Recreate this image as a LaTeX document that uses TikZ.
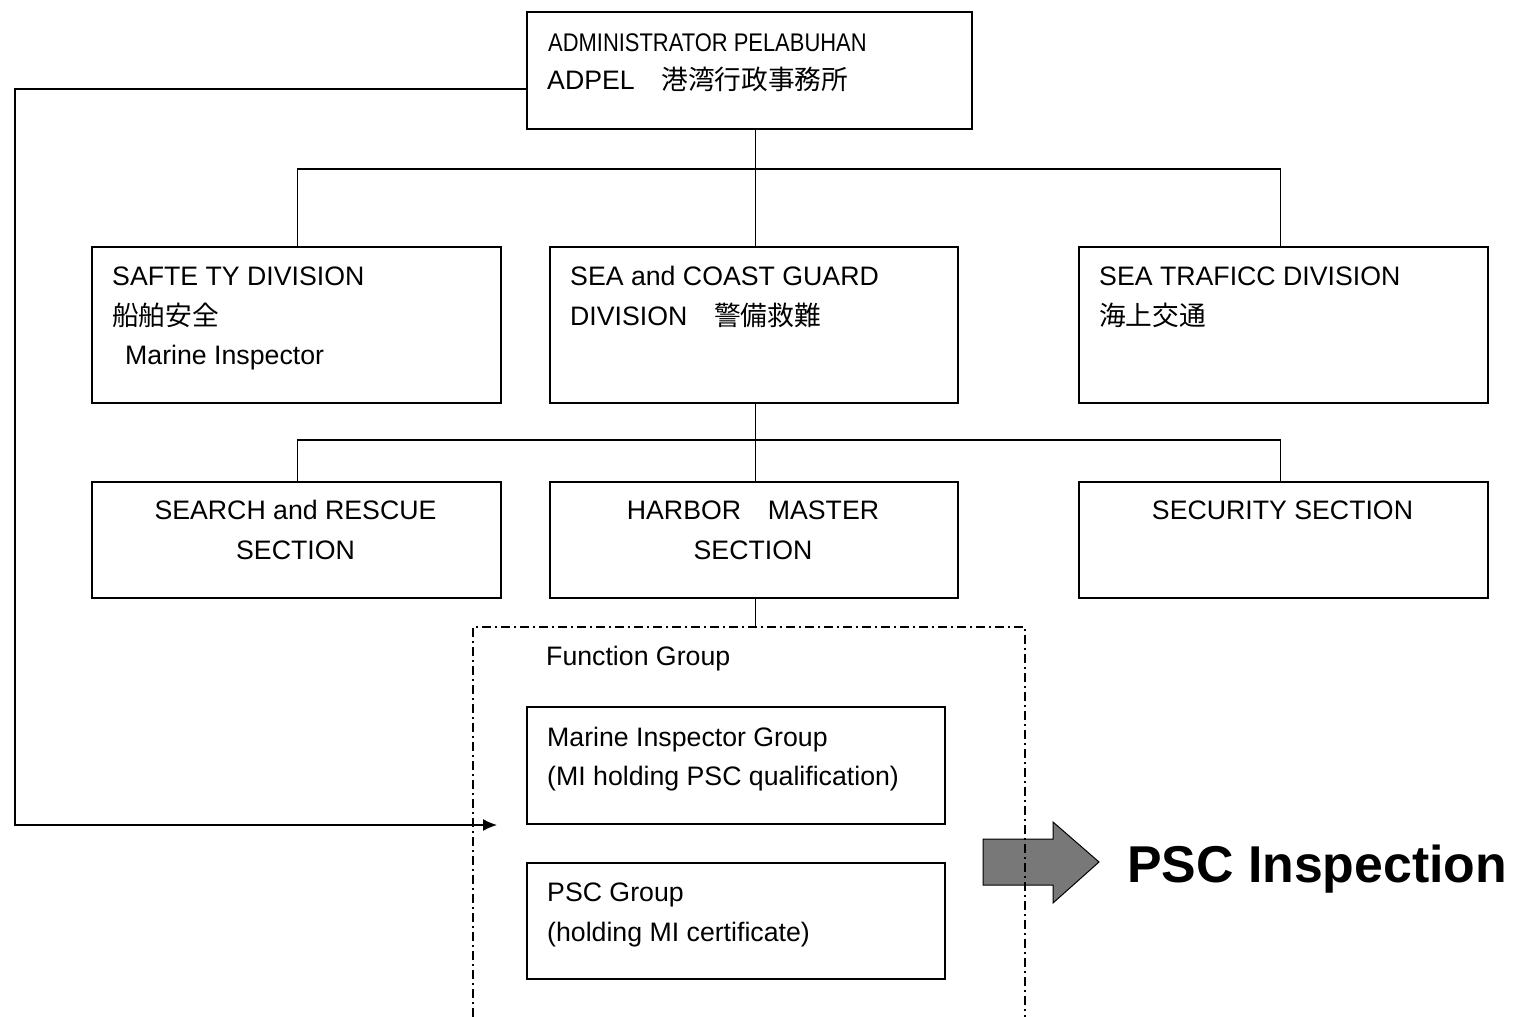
\documentclass[tikz,border=0pt]{standalone}
\usepackage{fontspec}
\setmainfont{Liberation Sans}
\newfontfamily\cjk{Noto Sans CJK JP}
\newfontfamily\narrowfont{Liberation Sans}[FakeStretch=0.86]
\usetikzlibrary{arrows.meta,calc}
\definecolor{arrowgray}{RGB}{120,120,120}
\begin{document}
\begin{tikzpicture}[x=1pt,y=-1pt,
  box/.style={draw, line width=1.5pt, rectangle, inner sep=0pt, anchor=north west},
  conn/.style={line width=1.4pt},
  txt/.style={anchor=base west, inner sep=0pt, font=\fontsize{26.7}{32}\selectfont},
  ctxt/.style={anchor=base, inner sep=0pt, font=\fontsize{26.7}{32}\selectfont},
  dashdot/.style={line width=1.3pt, dash pattern=on 9pt off 4pt on 2pt off 4pt}]
\useasboundingbox (0,0) rectangle (1515,1017);

% boxes
\node[box, minimum width=445, minimum height=117] (adpel) at (526,11) {};
\node[box, minimum width=409, minimum height=156] (saf) at (91,246) {};
\node[box, minimum width=408, minimum height=156] (scg) at (549,246) {};
\node[box, minimum width=409, minimum height=156] (traf) at (1078,246) {};
\node[box, minimum width=409, minimum height=116] (sar) at (91,481) {};
\node[box, minimum width=408, minimum height=116] (hm) at (549,481) {};
\node[box, minimum width=409, minimum height=116] (sec) at (1078,481) {};
\node[box, minimum width=418, minimum height=117] (mig) at (526,706) {};
\node[box, minimum width=418, minimum height=116] (pscg) at (526,862) {};

% texts
\node[txt, font=\narrowfont\fontsize{25.5}{30}\selectfont] (t1) at (548,51.5) {ADMINISTRATOR PELABUHAN};
\node[txt] (t2) at (547,89.5) {ADPEL{\cjk 　港湾行政事務所}};

\node[txt] (s1) at (112,285.5) {SAFTE TY DIVISION};
\node[txt] (s2) at (112,325) {\cjk 船舶安全};
\node[txt] (s3) at (125,364.5) {Marine Inspector};

\node[txt] (g1) at (570,285.5) {SEA and COAST GUARD};
\node[txt] (g2) at (570,325) {DIVISION{\cjk 　警備救難}};

\node[txt] (r1) at (1099,285.5) {SEA TRAFICC DIVISION};
\node[txt] (r2) at (1099,325) {\cjk 海上交通};

\node[ctxt] (a1) at (295.5,519.5) {SEARCH and RESCUE};
\node[ctxt] (a2) at (295.5,559) {SECTION};
\node[ctxt] (h1) at (753,519.5) {HARBOR{\cjk 　}MASTER};
\node[ctxt] (h2) at (753,559) {SECTION};
\node[ctxt] (c1) at (1282.5,519.5) {SECURITY SECTION};

\node[txt] (fgl) at (546,665.5) {Function Group};
\node[txt] (m1) at (547,746.5) {Marine Inspector Group};
\node[txt] (m2) at (547,785.5) {(MI holding PSC qualification)};
\node[txt] (p1) at (547,901.5) {PSC Group};
\node[txt] (p2) at (547,941) {(holding MI certificate)};

% big arrow
\draw[line width=1pt, fill=arrowgray] (983,839) -- (1053,839) -- (1053,822) -- (1099,862)
  -- (1053,903) -- (1053,885) -- (983,885) -- cycle;
\node[anchor=base west, inner sep=0pt, font=\bfseries\fontsize{51.8}{60}\selectfont] (psc) at (1127,882.5) {PSC Inspection};

% connectors
\coordinate (j1) at ($(saf.north)+(1.5,0)$);
\coordinate (j2) at ($(scg.north)+(2,0)$);
\coordinate (j3) at ($(traf.north)+(-2.5,0)$);
\coordinate (k1) at ($(sar.north)+(1.5,0)$);
\coordinate (k2) at ($(hm.north)+(2,0)$);
\coordinate (k3) at ($(sec.north)+(-2.5,0)$);
\draw[conn] (j1) -- ++(0,-77) -| (j3);
\draw[conn] (j2) -- (j2 |- adpel.south);
\draw[conn] (k1) -- ++(0,-41) -| (k3);
\draw[conn] (j2 |- scg.south) -- (k2);

\coordinate (fgtl) at (473,627);
\coordinate (fgtr) at (1025,627);
\coordinate (fgbl) at (473,1017);
\coordinate (fgbr) at (1025,1017);
\draw[conn] (k2 |- hm.south) -- (k2 |- fgtl);
\draw[dashdot] (fgbl) -- (fgtl) -- (fgtr) -- (fgbr);

\coordinate (lc1) at (15,89);
\coordinate (lc2) at (15,825);
\coordinate (tip) at (497,825);
\draw[conn, -{Latex[length=14pt,width=12pt]}] (adpel.west |- lc1) -- (lc1) -- (lc2) -- (tip);
\end{tikzpicture}
\end{document}
